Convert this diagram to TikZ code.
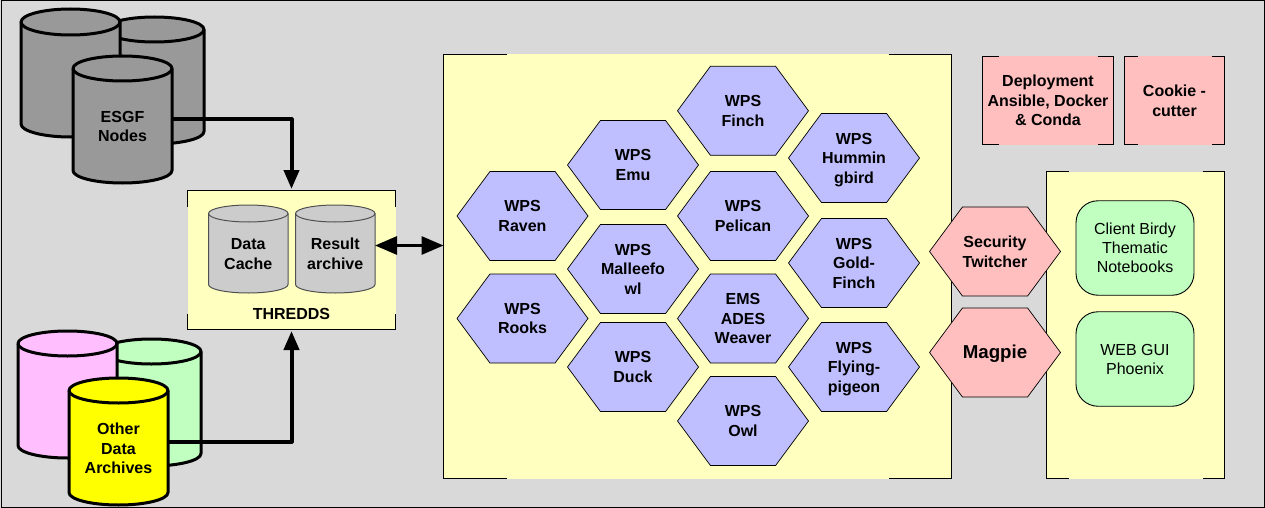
\documentclass[tikz,border=0pt]{standalone}
\usepackage{fontspec}
\setmainfont{Liberation Sans}
\usetikzlibrary{arrows.meta,calc,shapes.symbols}

\definecolor{panelgray}{HTML}{D9D9D9}
\definecolor{paleyellow}{HTML}{FFFFC0}
\definecolor{hexblue}{HTML}{BFBFFF}
\definecolor{hexpink}{HTML}{FFBFBF}
\definecolor{palegreen}{HTML}{C0FFC0}
\definecolor{palemagenta}{HTML}{FFBFFF}
\definecolor{brightyellow}{HTML}{FFFF00}
\definecolor{diskgray}{HTML}{999999}
\definecolor{lightdisk}{HTML}{CCCCCC}
\definecolor{diskline}{HTML}{505050}

\tikzset{
	boldtext/.style = {font=\fontsize{16}{19.5}\selectfont\bfseries, align=center, inner sep=0pt, text depth=-1.5pt},
	plaintext/.style = {font=\fontsize{16}{19}\selectfont, align=center},
	panel/.style = {rectangle, inner sep=0pt, outer sep=0pt},
	frameline/.style = {line width=1pt, black},
	hexcell/.style = {boldtext, signal, signal to=west and east, signal pointer angle=107, draw, line width=.7pt, fill=hexblue, minimum width=131pt, minimum height=89pt, outer sep=0pt},
	bigdisk/.style = {draw, line width=3pt, line join=round},
	smalldisk/.style = {draw=diskline, line width=1pt, fill=lightdisk},
	softbox/.style = {plaintext, rectangle, rounded corners=22pt, draw, line width=.9pt, fill=palegreen, minimum width=118pt, minimum height=94.5pt},
	feed/.style = {line width=4pt, line join=round, -{Triangle[length=19pt,width=15pt]}, shorten >=1.5pt},
	link/.style = {line width=3pt, {Triangle[length=22pt,width=18pt]}-{Triangle[length=22pt,width=18pt]}}
}
% frame drawn only near the corners of the top and bottom edges
\newcommand{\cornerframe}[2]{
	\draw[frameline] ([xshift=#2]#1.north west) -- (#1.north west) -- (#1.south west) -- ([xshift=#2]#1.south west);
	\draw[frameline] ([xshift=-#2]#1.north east) -- (#1.north east) -- (#1.south east) -- ([xshift=-#2]#1.south east);
}
% disk: name, centre, width, height, end radius, style, text
\newcommand{\disk}[7]{
	\node[panel, minimum width=#3pt, minimum height=#4pt] (#1) at (#2) {};
	\draw[#6] ([yshift=-#5pt]#1.north west) arc[start angle=180, end angle=0, x radius=#3pt/2, y radius=#5pt]
		-- ([yshift=#5pt]#1.south east) arc[start angle=0, end angle=-180, x radius=#3pt/2, y radius=#5pt] -- cycle;
	\draw[#6, fill=none] ([yshift=-#5pt]#1.north west) arc[start angle=180, end angle=360, x radius=#3pt/2, y radius=#5pt];
	\node[boldtext] (#1text) at ([yshift=-#5pt/2-.5pt]#1.center) {#7};
}

\begin{document}
\begin{tikzpicture}[x=1pt,y=-1pt]
	\useasboundingbox (0,0) rectangle (1265,508);
	\fill[panelgray] (0,0) rectangle (1265,508);
	\draw[frameline] (1,1) rectangle (1264.5,507.5);

	% ESGF group
	\disk{esgfright}{154.5,80.5}{99}{127}{12.5}{bigdisk, fill=diskgray}{}
	\disk{esgfleft}{70.5,73}{99}{128}{13}{bigdisk, fill=diskgray}{}
	\disk{esgf}{122.5,119.5}{99}{127}{12.5}{bigdisk, fill=diskgray}{ESGF\\Nodes}

	% other archives
	\disk{greenarc}{151.5,402.5}{99}{127}{12.5}{bigdisk, fill=palegreen}{}
	\disk{pinkarc}{67.5,394.5}{99}{127}{12.5}{bigdisk, fill=palemagenta}{}
	\disk{otherarc}{118.5,441.5}{99}{127}{12.5}{bigdisk, fill=brightyellow}{Other\\Data\\Archives}

	% THREDDS
	\node[panel, fill=paleyellow, minimum width=208pt, minimum height=139pt] (thredds) at (291.5,260) {};
	\draw[frameline] ([yshift=-16pt]thredds.north west) -- (thredds.north west) -- (thredds.north east) -- ([yshift=-16pt]thredds.north east);
	\draw[frameline] ([yshift=16pt]thredds.south west) -- (thredds.south west) -- (thredds.south east) -- ([yshift=16pt]thredds.south east);
	\disk{datacache}{248.25,249}{79.5}{88}{8.5}{smalldisk}{Data\\Cache}
	\disk{resultarc}{335.25,249}{79.5}{88}{8.5}{smalldisk}{Result\\archive}
	\node[boldtext] (threddslabel) at (291.5,313.5) {THREDDS};

	% WPS panel
	\node[panel, fill=paleyellow, minimum width=508pt, minimum height=424pt] (wpsbox) at (697.5,266.5) {};
	\cornerframe{wpsbox}{63pt}
	\node[hexcell] (finch) at (743,110.8) {WPS\\Finch};
	\node[hexcell] (emu) at (633,165) {WPS\\Emu};
	\node[hexcell] (hummingbird) at (854,158) {WPS\\Hummin\\gbird};
	\node[hexcell] (raven) at (522.5,216) {WPS\\Raven};
	\node[hexcell] (pelican) at (743,216) {WPS\\Pelican};
	\node[hexcell] (malleefowl) at (633,269) {WPS\\Malleefo\\wl};
	\node[hexcell] (goldfinch) at (854,263) {WPS\\Gold-\\Finch};
	\node[hexcell] (rooks) at (522.5,318.5) {WPS\\Rooks};
	\node[hexcell] (weaver) at (743,318.5) {EMS\\ADES\\Weaver};
	\node[hexcell] (duck) at (633,367) {WPS\\Duck};
	\node[hexcell] (flyingpigeon) at (854,367) {WPS\\Flying-\\pigeon};
	\node[hexcell] (owl) at (743,421) {WPS\\Owl};

	% top right boxes
	\node[panel, boldtext, fill=hexpink, minimum width=131pt, minimum height=88pt] (deploy) at (1048,100.5) {Deployment\\Ansible, Docker\\\& Conda};
	\cornerframe{deploy}{16pt}
	\node[panel, boldtext, fill=hexpink, minimum width=100pt, minimum height=88pt] (cookie) at (1174.5,100.5) {Cookie -\\cutter};
	\cornerframe{cookie}{13pt}

	% client panel
	\node[panel, fill=paleyellow, minimum width=178pt, minimum height=307pt] (clientbox) at (1135.5,325) {};
	\cornerframe{clientbox}{22pt}
	\node[softbox] (birdy) at (1135,248) {Client Birdy\\Thematic\\Notebooks};
	\node[softbox] (phoenix) at (1135,359) {WEB GUI\\Phoenix};

	\node[hexcell, fill=hexpink] (twitcher) at (995,251.5) {Security\\Twitcher};
	\node[hexcell, fill=hexpink, font=\fontsize{18.7}{22}\selectfont\bfseries, text depth=1pt] (magpie) at (995,352.5) {Magpie};

	% connectors
	\draw[feed] (esgf.east) -| (thredds.north);
	\draw[feed] (otherarc.east) -| (thredds.south);
	\draw[link] ([yshift=3.5pt]resultarc.east) coordinate (linkstart) -- (linkstart -| wpsbox.west);
\end{tikzpicture}
\end{document}
